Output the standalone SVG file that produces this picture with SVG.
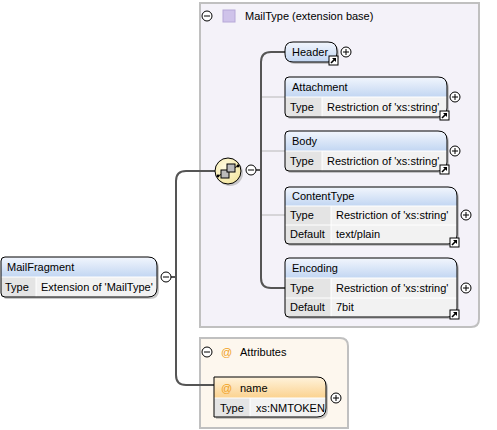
<svg xmlns="http://www.w3.org/2000/svg" width="497" height="430" viewBox="0 0 497 430">
<defs>
<style>
text{font-family:"Liberation Sans",Arial,sans-serif;font-size:11px;fill:#000}
.box{fill:none;stroke:#000;stroke-width:1}
.shadow{fill:#9a9a9a;opacity:0.55}
.lbl{fill:#e4e4e4}
.val{fill:#f2f2f2}
.hdr{fill:url(#gblue)}
.ohdr{fill:url(#gorange)}
.conn{fill:none;stroke:#555;stroke-width:2}
.br{fill:none;stroke:#b8b8b8;stroke-width:1}
.pm{fill:#fff;stroke:#000;stroke-width:1}
.pmt{stroke:#000;stroke-width:1}
.grp{stroke:#c0c0c0;stroke-width:2}
.sep{stroke:url(#gsep);stroke-width:2}
.cell{stroke:#fff;stroke-width:1}
</style>
<linearGradient id="gblue" x1="0" y1="0" x2="0" y2="1">
<stop offset="0" stop-color="#f2f6fd"/>
<stop offset="1" stop-color="#c2d6f2"/>
</linearGradient>
<linearGradient id="gorange" x1="0" y1="0" x2="0" y2="1">
<stop offset="0" stop-color="#fff3dc"/>
<stop offset="1" stop-color="#fbd28f"/>
</linearGradient>
<linearGradient id="gsep" x1="0" y1="0" x2="1" y2="0">
<stop offset="0" stop-color="#d8d8dc" stop-opacity="0.3"/>
<stop offset="0.4" stop-color="#d8d8dc"/>
<stop offset="1" stop-color="#d8d8dc" stop-opacity="0"/>
</linearGradient>
<radialGradient id="gseq" cx="0.4" cy="0.35" r="0.7">
<stop offset="0" stop-color="#fffbe0"/>
<stop offset="1" stop-color="#f3e6a0"/>
</radialGradient>
<g id="plus"><circle r="5" class="pm"/><path d="M-3,0H3M0,-3V3" class="pmt"/></g>
<g id="minus"><circle r="5" class="pm"/><path d="M-3,0H3" class="pmt"/></g>
<g id="ref"><rect x="0" y="0" width="9" height="9" fill="#fff" stroke="#000"/><path d="M2,7L6,3" stroke="#000" stroke-width="1.6"/><path d="M3,2H7V6Z" fill="#000"/></g>
</defs>
<rect width="497" height="430" fill="#fff"/>

<g id="mailtype-group">
<path d="M200,3H479V319Q479,327 471,327H200Z" fill="#f4f2f9" class="grp"/>
<use href="#minus" x="207" y="16"/>
<rect x="223" y="10" width="12" height="12" fill="#cfc3ea" stroke="#b6a8d8"/>
<text x="245" y="20">MailType (extension base)</text>
<line x1="205" y1="31" x2="412" y2="31" class="sep"/>
</g>

<g id="attributes-group">
<path d="M200,338H340Q348,338 348,346V428H200Z" fill="#fdf7ee" class="grp"/>
<use href="#minus" x="207" y="352"/>
<text x="221" y="356" style="fill:#f0a020">@</text>
<text x="240" y="356">Attributes</text>
<line x1="205" y1="371" x2="318" y2="371" class="sep"/>
</g>

<g id="connectors">
<path d="M171,277H176M215,171H186Q176,171 176,181V375Q176,385 186,385H214" class="conn"/>
<path d="M256,170H261M285,52H271Q261,52 261,62V278Q261,288 271,288H285" class="conn"/>
<path d="M262,97H285M262,151H285M262,215H285" class="br"/>
</g>

<g id="MailFragment">
<path d="M3,259H150Q159,259 159,268V290Q159,299 150,299H7Q3,299 3,295V263Q3,259 7,259Z" class="shadow"/>
<path d="M5,257H148Q157,257 157,266V277H1V261Q1,257 5,257Z" class="hdr"/>
<rect x="1" y="277" width="35" height="20" class="lbl"/>
<path d="M36,277H157V288Q157,297 148,297H36Z" class="val"/>
<line x1="1" y1="277" x2="157" y2="277" class="cell"/>
<line x1="36" y1="277" x2="36" y2="297" class="cell"/>
<path d="M5,257H148Q157,257 157,266V288Q157,297 148,297H5Q1,297 1,293V261Q1,257 5,257Z" class="box"/>
<text x="7" y="271">MailFragment</text>
<text x="5" y="291">Type</text>
<text x="41" y="291">Extension of 'MailType'</text>
<use href="#minus" x="166" y="277"/>
</g>

<g id="sequence">
<circle cx="230" cy="173" r="13" fill="#9a9a9a" opacity="0.5"/>
<circle cx="228" cy="171" r="13" fill="url(#gseq)" stroke="#000"/>
<line x1="218" y1="176" x2="238" y2="166" stroke="#000"/>
<rect x="221" y="170" width="8" height="8" fill="#bbb" stroke="#000"/>
<rect x="227" y="164" width="8" height="8" fill="#bbb" stroke="#000"/>
<circle cx="218" cy="176" r="1.4" fill="#000"/>
<circle cx="238" cy="166" r="1.4" fill="#000"/>
<use href="#minus" x="251" y="170"/>
</g>

<g id="Header">
<path d="M295,44H330Q339,44 339,53V55Q339,64 330,64H295Q287,64 287,56V52Q287,44 295,44Z" class="shadow"/>
<path d="M293,42H328Q337,42 337,51V53Q337,62 328,62H293Q285,62 285,54V50Q285,42 293,42Z" class="hdr" stroke="#000"/>
<text x="292" y="56">Header</text>
<use href="#ref" x="329" y="56"/>
<use href="#plus" x="346" y="52"/>
</g>

<g id="Attachment">
<path d="M291,79H440Q449,79 449,88V110Q449,119 440,119H291Q287,119 287,115V83Q287,79 291,79Z" class="shadow"/>
<path d="M289,77H438Q447,77 447,86V97H285V81Q285,77 289,77Z" class="hdr"/>
<rect x="285" y="97" width="37" height="20" class="lbl"/>
<path d="M322,97H447V108Q447,117 438,117H322Z" class="val"/>
<line x1="285" y1="97" x2="447" y2="97" class="cell"/>
<line x1="322" y1="97" x2="322" y2="117" class="cell"/>
<path d="M289,77H438Q447,77 447,86V108Q447,117 438,117H289Q285,117 285,113V81Q285,77 289,77Z" class="box"/>
<text x="292" y="91">Attachment</text>
<text x="290" y="111">Type</text>
<text x="327" y="111">Restriction of 'xs:string'</text>
<use href="#ref" x="440" y="111"/>
<use href="#plus" x="455" y="97"/>
</g>

<g id="Body">
<path d="M291,133H440Q449,133 449,142V164Q449,173 440,173H291Q287,173 287,169V137Q287,133 291,133Z" class="shadow"/>
<path d="M289,131H438Q447,131 447,140V151H285V135Q285,131 289,131Z" class="hdr"/>
<rect x="285" y="151" width="37" height="20" class="lbl"/>
<path d="M322,151H447V162Q447,171 438,171H322Z" class="val"/>
<line x1="285" y1="151" x2="447" y2="151" class="cell"/>
<line x1="322" y1="151" x2="322" y2="171" class="cell"/>
<path d="M289,131H438Q447,131 447,140V162Q447,171 438,171H289Q285,171 285,167V135Q285,131 289,131Z" class="box"/>
<text x="292" y="145">Body</text>
<text x="290" y="165">Type</text>
<text x="327" y="165">Restriction of 'xs:string'</text>
<use href="#ref" x="440" y="165"/>
<use href="#plus" x="455" y="151"/>
</g>

<g id="ContentType">
<path d="M291,189H450Q459,189 459,198V237Q459,246 450,246H291Q287,246 287,242V193Q287,189 291,189Z" class="shadow"/>
<path d="M289,187H448Q457,187 457,196V206H285V191Q285,187 289,187Z" class="hdr"/>
<rect x="285" y="206" width="46" height="38" class="lbl"/>
<rect x="331" y="206" width="126" height="19" class="val"/>
<path d="M331,225H457V235Q457,244 448,244H331Z" class="val"/>
<line x1="285" y1="206" x2="457" y2="206" class="cell"/>
<line x1="285" y1="225" x2="457" y2="225" class="cell"/>
<line x1="331" y1="206" x2="331" y2="244" class="cell"/>
<path d="M289,187H448Q457,187 457,196V235Q457,244 448,244H289Q285,244 285,240V191Q285,187 289,187Z" class="box"/>
<text x="292" y="200">ContentType</text>
<text x="290" y="219">Type</text>
<text x="336" y="219">Restriction of 'xs:string'</text>
<text x="290" y="238">Default</text>
<text x="336" y="238">text/plain</text>
<use href="#ref" x="450" y="238"/>
<use href="#plus" x="466" y="215"/>
</g>

<g id="Encoding">
<path d="M291,260H450Q459,260 459,269V310Q459,319 450,319H291Q287,319 287,315V264Q287,260 291,260Z" class="shadow"/>
<path d="M289,258H448Q457,258 457,267V278H285V262Q285,258 289,258Z" class="hdr"/>
<rect x="285" y="278" width="46" height="39" class="lbl"/>
<rect x="331" y="278" width="126" height="20" class="val"/>
<path d="M331,298H457V308Q457,317 448,317H331Z" class="val"/>
<line x1="285" y1="278" x2="457" y2="278" class="cell"/>
<line x1="285" y1="298" x2="457" y2="298" class="cell"/>
<line x1="331" y1="278" x2="331" y2="317" class="cell"/>
<path d="M289,258H448Q457,258 457,267V308Q457,317 448,317H289Q285,317 285,313V262Q285,258 289,258Z" class="box"/>
<text x="292" y="272">Encoding</text>
<text x="290" y="292">Type</text>
<text x="336" y="292">Restriction of 'xs:string'</text>
<text x="290" y="311">Default</text>
<text x="336" y="311">7bit</text>
<use href="#ref" x="450" y="310"/>
<use href="#plus" x="466" y="288"/>
</g>

<g id="name">
<path d="M216,379H319Q328,379 328,388V410Q328,419 319,419H216Z" class="shadow"/>
<path d="M214,377H317Q326,377 326,386V398H214Z" class="ohdr"/>
<rect x="214" y="398" width="36" height="19" class="lbl"/>
<path d="M250,398H326V408Q326,417 317,417H250Z" class="val"/>
<line x1="214" y1="398" x2="326" y2="398" class="cell"/>
<line x1="250" y1="398" x2="250" y2="417" class="cell"/>
<path d="M214,377H317Q326,377 326,386V408Q326,417 317,417H214Z" class="box"/>
<text x="221" y="392" style="fill:#f0a020">@</text>
<text x="240" y="392">name</text>
<text x="220" y="412">Type</text>
<text x="256" y="412">xs:NMTOKEN</text>
<use href="#plus" x="336" y="398"/>
</g>
</svg>
